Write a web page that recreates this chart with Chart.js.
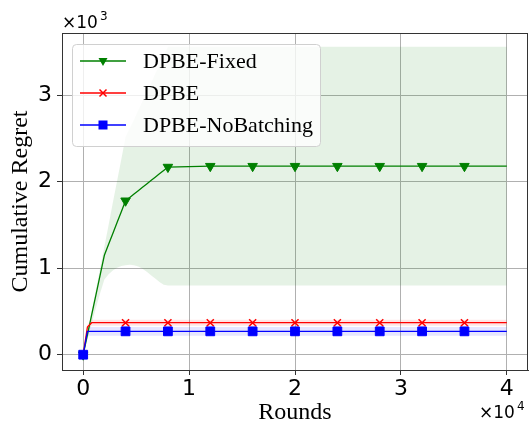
<!DOCTYPE html>
<html>
<head>
<meta charset="utf-8">
<script src="https://cdn.jsdelivr.net/npm/chart.js@4.4.1/dist/chart.umd.min.js"></script>
<style>
  html, body { margin: 0; padding: 0; background: #fff; }
  canvas { display: block; }
</style>
</head>
<body>
<canvas id="myChart" width="529" height="424"></canvas>
<script>
// data
const rounds = [0, 400, 800, 1200, 1600, 2000, 2400, 2800, 3200, 3600, 4000,
  4400, 4800, 5200, 5600, 6000, 6400, 6800, 7200, 7600, 8000,
  12000, 16000, 20000, 24000, 28000, 32000, 36000, 40000];

const fixedMean = [0, 230, 460, 690, 920, 1150, 1276, 1402, 1528, 1654, 1780,
  1819, 1858, 1897, 1936, 1975, 2014, 2053, 2092, 2131, 2170,
  2180, 2180, 2180, 2180, 2180, 2180, 2180, 2180];
const fixedHigh = [0, 250, 500, 750, 1000, 1250, 1500, 1760, 2010, 2260, 2520,
  2620, 2720, 2830, 2930, 3040, 3140, 3250, 3350, 3460, 3560,
  3560, 3560, 3560, 3560, 3560, 3560, 3560, 3560];
const fixedLow = [0, 180, 360, 540, 710, 870, 930, 975, 1005, 1025, 1035,
  1040, 1035, 1020, 995, 960, 920, 880, 840, 810, 800,
  800, 800, 800, 800, 800, 800, 800, 800];

const dpbeMean = [0, 320, 370, 370, 370, 370, 370, 370, 370, 370, 370,
  370, 370, 370, 370, 370, 370, 370, 370, 370, 370,
  370, 370, 370, 370, 370, 370, 370, 370];
const dpbeHigh = [0, 350, 405, 405, 405, 405, 405, 405, 405, 405, 405,
  405, 405, 405, 405, 405, 405, 405, 405, 405, 405,
  405, 405, 405, 405, 405, 405, 405, 405];
const dpbeLow = [0, 290, 335, 335, 335, 335, 335, 335, 335, 335, 335,
  335, 335, 335, 335, 335, 335, 335, 335, 335, 335,
  335, 335, 335, 335, 335, 335, 335, 335];

const noBatchMean = [0, 270, 270, 270, 270, 270, 270, 270, 270, 270, 270,
  270, 270, 270, 270, 270, 270, 270, 270, 270, 270,
  270, 270, 270, 270, 270, 270, 270, 270];
const noBatchHigh = [0, 320, 320, 320, 320, 320, 320, 320, 320, 320, 320,
  320, 320, 320, 320, 320, 320, 320, 320, 320, 320,
  320, 320, 320, 320, 320, 320, 320, 320];
const noBatchLow = [0, 220, 220, 220, 220, 220, 220, 220, 220, 220, 220,
  220, 220, 220, 220, 220, 220, 220, 220, 220, 220,
  220, 220, 220, 220, 220, 220, 220, 220];

const xTicks = [0, 10000, 20000, 30000, 40000];
const yTicks = [0, 1000, 2000, 3000];

const seriesNames = ["DPBE-Fixed", "DPBE", "DPBE-NoBatching"];

const toPts = (ys) => rounds.map((x, i) => ({ x: x, y: ys[i] }));
const markEvery = (r) => (ctx) => {
  const x = rounds[ctx.dataIndex];
  return x % 4000 === 0 && x < 40000 ? r : 0;
};

const band = (ys, color, fill, order) => ({
  data: toPts(ys),
  borderWidth: 0,
  pointRadius: 0,
  backgroundColor: color,
  fill: fill,
  order: order,
});

const line = (label, ys, color, style, r, rot, order) => ({
  label: label,
  data: toPts(ys),
  borderColor: color,
  backgroundColor: color,
  borderWidth: 1.3,
  pointStyle: style,
  pointRotation: rot,
  pointRadius: markEvery(r),
  pointBorderColor: color,
  pointBackgroundColor: color,
  pointBorderWidth: style === "crossRot" ? 1.5 : 1,
  fill: false,
  order: order,
});

// legend, frame, axis titles and offset texts
const decorations = {
  id: "decorations",
  afterDraw(chart) {
    const ctx = chart.ctx;
    const a = chart.chartArea;
    ctx.save();

    ctx.strokeStyle = "#333";
    ctx.lineWidth = 1;
    ctx.strokeRect(a.left + 0.5, a.top + 0.5, a.right - a.left - 1, a.bottom - a.top);

    // legend
    ctx.beginPath();
    ctx.roundRect(72.5, 44.5, 248, 102, 4);
    ctx.fillStyle = "rgba(255,255,255,0.8)";
    ctx.fill();
    ctx.strokeStyle = "#d0d0d0";
    ctx.stroke();

    const colors = ["green", "red", "blue"];
    const ys = [61, 93, 125];
    ctx.font = "22px 'Liberation Serif'";
    ctx.textBaseline = "middle";
    for (let i = 0; i < 3; i++) {
      const y = ys[i];
      ctx.strokeStyle = colors[i];
      ctx.fillStyle = colors[i];
      ctx.lineWidth = 1.3;
      ctx.beginPath();
      ctx.moveTo(80, y);
      ctx.lineTo(126, y);
      ctx.stroke();
      const cx = 103;
      ctx.beginPath();
      if (i === 0) {
        ctx.moveTo(cx - 4.5, y - 3);
        ctx.lineTo(cx + 4.5, y - 3);
        ctx.lineTo(cx, y + 5);
        ctx.closePath();
        ctx.fill();
      } else if (i === 1) {
        ctx.lineWidth = 1.5;
        ctx.moveTo(cx - 3.5, y - 3.5);
        ctx.lineTo(cx + 3.5, y + 3.5);
        ctx.moveTo(cx + 3.5, y - 3.5);
        ctx.lineTo(cx - 3.5, y + 3.5);
        ctx.stroke();
      } else {
        ctx.fillRect(cx - 4.5, y - 4.5, 9, 9);
      }
      ctx.fillStyle = "#000";
      ctx.fillText(seriesNames[i], 143, y + 1);
    }

    // axis titles
    ctx.fillStyle = "#000";
    ctx.font = "24px 'Liberation Serif'";
    ctx.textAlign = "center";
    ctx.textBaseline = "alphabetic";
    ctx.fillText("Rounds", (a.left + a.right) / 2, 419);
    ctx.save();
    ctx.translate(27, (a.top + a.bottom) / 2);
    ctx.rotate(-Math.PI / 2);
    ctx.fillText("Cumulative Regret", 0, 0);
    ctx.restore();

    // offset texts
    ctx.textAlign = "left";
    ctx.font = "17px 'DejaVu Sans'";
    ctx.fillText("\u00d710", 62, 28);
    ctx.font = "12px 'DejaVu Sans'";
    ctx.fillText("3", 100, 20);
    ctx.font = "17px 'DejaVu Sans'";
    ctx.fillText("\u00d710", 479, 418);
    ctx.font = "12px 'DejaVu Sans'";
    ctx.fillText("4", 517, 410);

    ctx.restore();
  },
};

const ctx = document.getElementById("myChart").getContext("2d");
new Chart(ctx, {
  type: "line",
  data: {
    datasets: [
      band(fixedHigh, "rgba(0,128,0,0.1)", "+1", 10),
      band(fixedLow, "rgba(0,0,0,0)", false, 11),
      band(dpbeHigh, "rgba(255,0,0,0.1)", "+1", 8),
      band(dpbeLow, "rgba(0,0,0,0)", false, 9),
      band(noBatchHigh, "rgba(0,0,255,0.1)", "+1", 6),
      band(noBatchLow, "rgba(0,0,0,0)", false, 7),
      line(seriesNames[0], fixedMean, "green", "triangle", 5.5, 180, 3),
      line(seriesNames[1], dpbeMean, "red", "crossRot", 5, 0, 2),
      line(seriesNames[2], noBatchMean, "blue", "rect", 6.2, 0, 1),
    ],
  },
  options: {
    responsive: false,
    animation: false,
    devicePixelRatio: 1,
    layout: { autoPadding: false, padding: { top: 33, right: 1, left: 0, bottom: 0 } },
    plugins: {
      legend: { display: false },
      tooltip: { enabled: false },
    },
    elements: { line: { tension: 0 } },
    scales: {
      x: {
        type: "linear",
        min: -2000,
        max: 42000,
        afterBuildTicks: (s) => { s.ticks = xTicks.map((v) => ({ value: v })); },
        afterFit: (s) => { s.height = 54; s.paddingLeft = 0; s.paddingRight = 0; },
        ticks: {
          callback: (v) => v / 10000,
          font: { family: "DejaVu Sans", size: 22 },
          color: "#000",
          padding: 1,
          maxRotation: 0,
        },
        grid: { color: "#b0b0b0", lineWidth: 1, tickLength: 5, tickColor: "#333" },
        border: { color: "#333", width: 1 },
      },
      y: {
        type: "linear",
        min: -177,
        max: 3720,
        afterBuildTicks: (s) => { s.ticks = yTicks.map((v) => ({ value: v })); },
        afterFit: (s) => { s.width = 62; s.paddingTop = 0; s.paddingBottom = 0; },
        ticks: {
          callback: (v) => v / 1000,
          font: { family: "DejaVu Sans", size: 22 },
          color: "#000",
          padding: 5,
        },
        grid: { color: "#b0b0b0", lineWidth: 1, tickLength: 5, tickColor: "#333" },
        border: { color: "#333", width: 1 },
      },
    },
  },
  plugins: [decorations],
});
</script>
</body>
</html>
